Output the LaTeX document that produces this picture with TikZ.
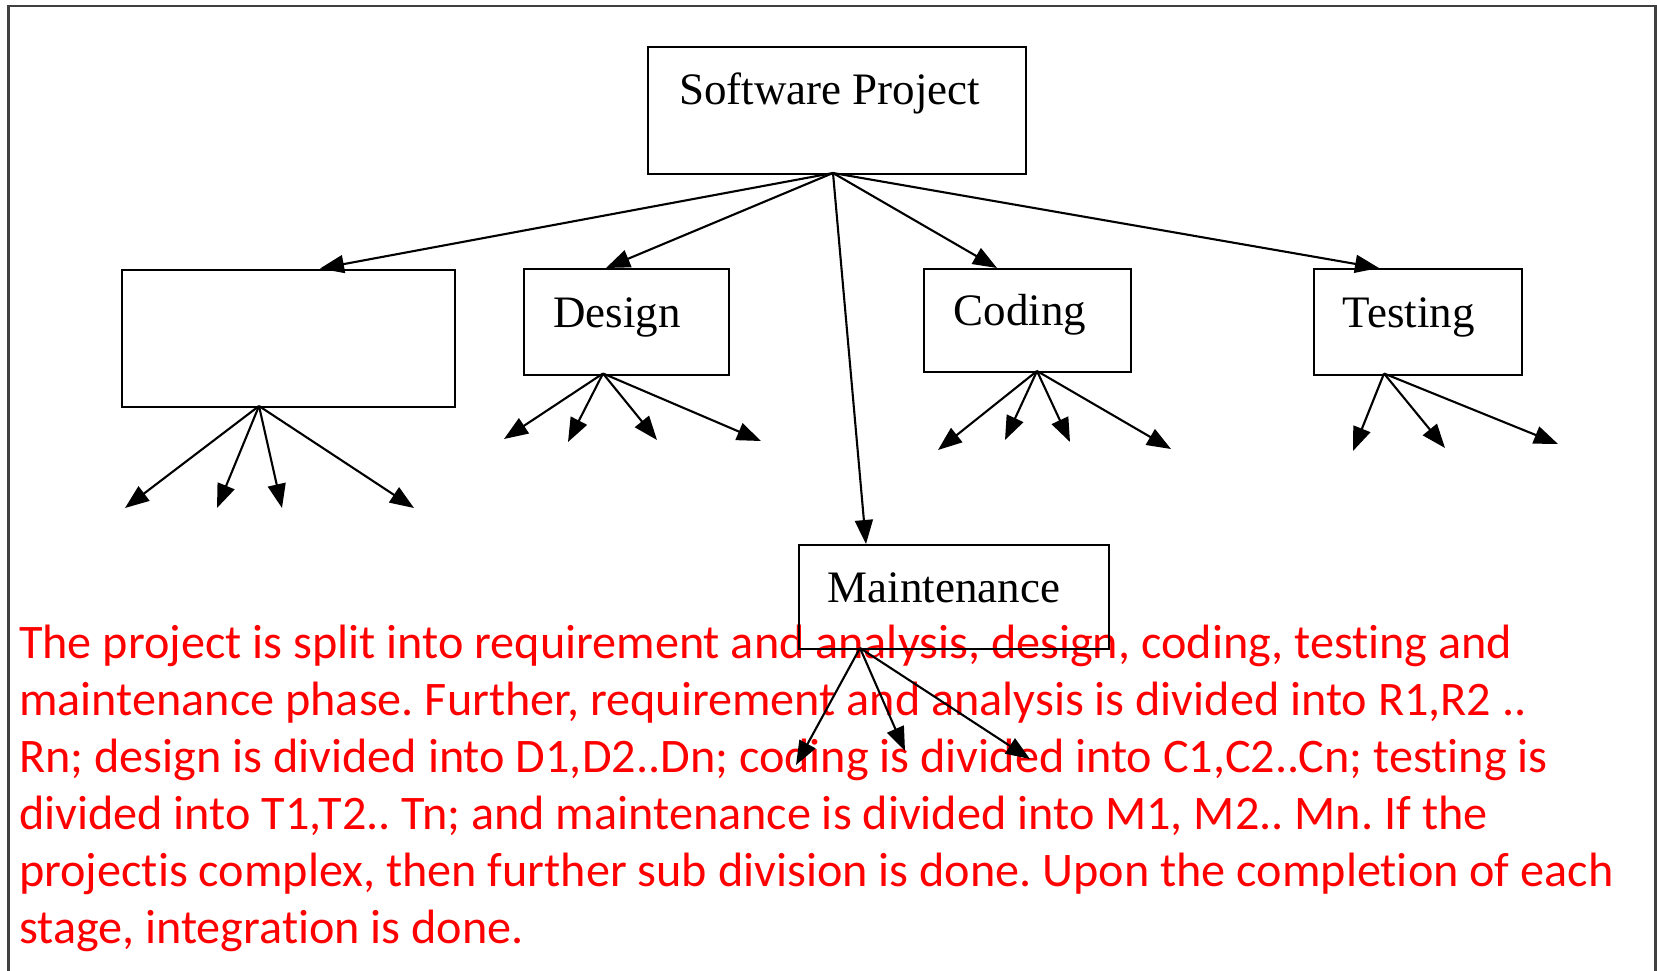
\documentclass[tikz,border=0pt]{standalone}
\usepackage{fontspec}
\setmainfont{Liberation Serif}
\newfontfamily\calib[Ligatures=NoCommon]{Carlito}
\usetikzlibrary{arrows.meta}
\frenchspacing
\tikzset{
  box/.style={draw=black, line width=2.2pt, rectangle, inner sep=0pt, anchor=north west},
  lbl/.style={anchor=base west, inner sep=0pt, font=\fontsize{45}{50}\selectfont, text=black},
  arr/.style={line width=2.1pt, -{Triangle[length=24pt,width=18pt]}},
  red/.style={anchor=base west, inner sep=0pt, font=\calib\fontsize{48.2}{57}\selectfont, text=red}
}
\begin{document}
\begin{tikzpicture}[x=1pt,y=-1pt]
\useasboundingbox (0,0) rectangle (1657,970);
% frame
\draw[line width=2.2pt, black!75] (8.5,972) -- (8.5,6) -- (1655.5,6) -- (1655.5,972);
% red text
\node[red] (l1) at (19,658) {The project is split into requirement and analysis, design, coding, testing and};
\node[red] (l2) at (19,715) {maintenance phase. Further, requirement and analysis is divided into R1,R2 ..};
\node[red] (l3) at (19,772) {Rn; design is divided into D1,D2..Dn; coding is divided into C1,C2..Cn; testing is};
\node[red] (l4) at (19,829) {divided into T1,T2.. Tn; and maintenance is divided into M1, M2.. Mn. If the};
\node[red] (l5) at (19,886) {projectis complex, then further sub division is done. Upon the completion of each};
\node[red] (l6) at (19,943) {stage, integration is done.};
% boxes
\node[box, minimum width=378pt, minimum height=127.5pt] (sp) at (647,45.5) {};
\node[box, minimum width=333pt, minimum height=137.5pt] (r) at (120.5,268.5) {};
\node[box, minimum width=205pt, minimum height=105.5pt] (d) at (523,268) {};
\node[box, minimum width=207.5pt, minimum height=103pt] (c) at (922.5,268) {};
\node[box, minimum width=208pt, minimum height=105.5pt] (t) at (1312.5,268) {};
\node[box, minimum width=309.5pt, minimum height=104pt] (m) at (798,544) {};
% labels
\node[lbl] (spt) at ([xshift=32pt,yshift=-59pt]sp.north west) {Software Project};
\node[lbl] (dt) at ([xshift=30pt,yshift=-59pt]d.north west) {Design};
\node[lbl] (ct) at ([xshift=31pt,yshift=-57pt]c.north west) {Coding};
\node[lbl] (tt) at ([xshift=30pt,yshift=-59pt]t.north west) {Testing};
\node[lbl] (mt) at ([xshift=29.5pt,yshift=-58pt]m.north west) {Maintenance};
% anchor points
\coordinate (spo) at (833,173);
\coordinate (rin) at (320,268.5);
\coordinate (din) at (606,268);
\coordinate (min) at (866,544);
\coordinate (cin) at (997,268);
\coordinate (tin) at (1379,268);
\coordinate (ro) at (259,406);
\coordinate (do) at (603,373.5);
\coordinate (co) at (1037,371);
\coordinate (to) at (1384,373.5);
\coordinate (mo) at (860,648);
% sub-ends
\coordinate (r1) at (125,508); \coordinate (r2) at (217,508); \coordinate (r3) at (282,508); \coordinate (r4) at (414,508);
\coordinate (d1) at (504,439); \coordinate (d2) at (568,442); \coordinate (d3) at (657,440); \coordinate (d4) at (761,441);
\coordinate (c1) at (938,450); \coordinate (c2) at (1005,440); \coordinate (c3) at (1070,442); \coordinate (c4) at (1171,449);
\coordinate (t1) at (1353,451); \coordinate (t2) at (1445,448); \coordinate (t3) at (1558,444);
\coordinate (m1) at (796,765); \coordinate (m2) at (905,751); \coordinate (m3) at (1030,759);
% main arrows
\draw[arr] (spo) -- (rin);
\draw[arr] (spo) -- (din);
\draw[arr] (spo) -- (min);
\draw[arr] (spo) -- (cin);
\draw[arr] (spo) -- (tin);
% sub arrows
\foreach \e in {r1,r2,r3,r4} \draw[arr] (ro) -- (\e);
\foreach \e in {d1,d2,d3,d4} \draw[arr] (do) -- (\e);
\foreach \e in {c1,c2,c3,c4} \draw[arr] (co) -- (\e);
\foreach \e in {t1,t2,t3} \draw[arr] (to) -- (\e);
\foreach \e in {m1,m2,m3} \draw[arr] (mo) -- (\e);
\end{tikzpicture}
\end{document}
